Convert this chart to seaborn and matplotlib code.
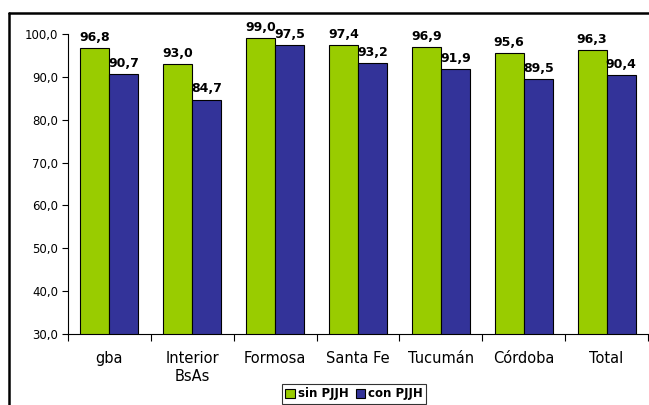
import matplotlib
matplotlib.use("Agg")
import matplotlib.pyplot as plt
import seaborn as sns
import pandas as pd
from matplotlib.lines import Line2D
from matplotlib.ticker import FuncFormatter, FixedLocator

categories = ["gba", "Interior\nBsAs", "Formosa", "Santa Fe", "Tucumán", "Córdoba", "Total"]
sin_pjjh = [96.8, 93.0, 99.0, 97.4, 96.9, 95.6, 96.3]
con_pjjh = [90.7, 84.7, 97.5, 93.2, 91.9, 89.5, 90.4]
series_names = ["sin PJJH", "con PJJH"]
colors = ["#99CC00", "#333399"]

df = pd.DataFrame({
    "region": categories * 2,
    "valor": sin_pjjh + con_pjjh,
    "serie": [series_names[0]] * len(categories) + [series_names[1]] * len(categories),
})

sns.set_style("white")
plt.rcParams["font.family"] = ["DejaVu Sans"]
plt.rcParams["text.color"] = "black"
plt.rcParams["xtick.color"] = "black"
plt.rcParams["ytick.color"] = "black"
plt.rcParams["axes.labelcolor"] = "black"

fig = plt.figure(figsize=(6.49, 4.05), dpi=100)
ax = fig.add_axes([68 / 649, 1 - 334 / 405, 580 / 649, 300 / 405])

sns.barplot(data=df, x="region", y="valor", hue="serie", palette=colors,
            width=0.7, saturation=1, ax=ax, edgecolor="black", linewidth=0.8)

ax.set_ylim(30, 100)
ax.set_xlim(-0.5, len(categories) - 0.5)
ax.set_yticks([30, 40, 50, 60, 70, 80, 90, 100])
ax.yaxis.set_major_formatter(FuncFormatter(lambda v, p: f"{v:.1f}".replace(".", ",")))
ax.tick_params(axis="y", labelsize=8.5, length=4, width=0.8, direction="out", left=True,
               pad=3, colors="black")

# category labels without ticks; ticks drawn at group boundaries
ax.tick_params(axis="x", which="major", length=0, labelsize=10.5, pad=12, colors="black")
for lbl in ax.get_xticklabels():
    lbl.set_linespacing(1.3)
ax.xaxis.set_minor_locator(FixedLocator([i - 0.5 for i in range(len(categories) + 1)]))
ax.tick_params(axis="x", which="minor", length=5, width=0.8, direction="out", bottom=True,
               colors="black")

ax.set_xlabel("")
ax.set_ylabel("")
for side in ["top", "right"]:
    ax.spines[side].set_visible(False)
for side in ["left", "bottom"]:
    ax.spines[side].set_color("black")
    ax.spines[side].set_linewidth(0.8)

for container in ax.containers:
    ax.bar_label(container, labels=[f"{v:.1f}".replace(".", ",") for v in container.datavalues],
                 fontsize=9, fontweight="bold", padding=3, color="black")

leg = ax.legend(loc="center", bbox_to_anchor=(354 / 649, 1 - 394 / 405),
                bbox_transform=fig.transFigure, ncol=2, frameon=True, fancybox=False,
                edgecolor="black", handlelength=0.8, handleheight=0.9, handletextpad=0.25,
                columnspacing=0.6, borderpad=0.3,
                prop={"size": 8.5, "weight": "bold"})
leg.get_frame().set_linewidth(0.8)
for t in leg.get_texts():
    t.set_color("black")

# outer chart frame
fig.add_artist(Line2D([9 / 649, 9 / 649], [0, 1 - 13 / 405], transform=fig.transFigure,
                      color="black", linewidth=1.8))
fig.add_artist(Line2D([9 / 649, 1], [1 - 13 / 405, 1 - 13 / 405], transform=fig.transFigure,
                      color="black", linewidth=1.8))

fig.savefig("out.png", dpi=100, facecolor="white")
